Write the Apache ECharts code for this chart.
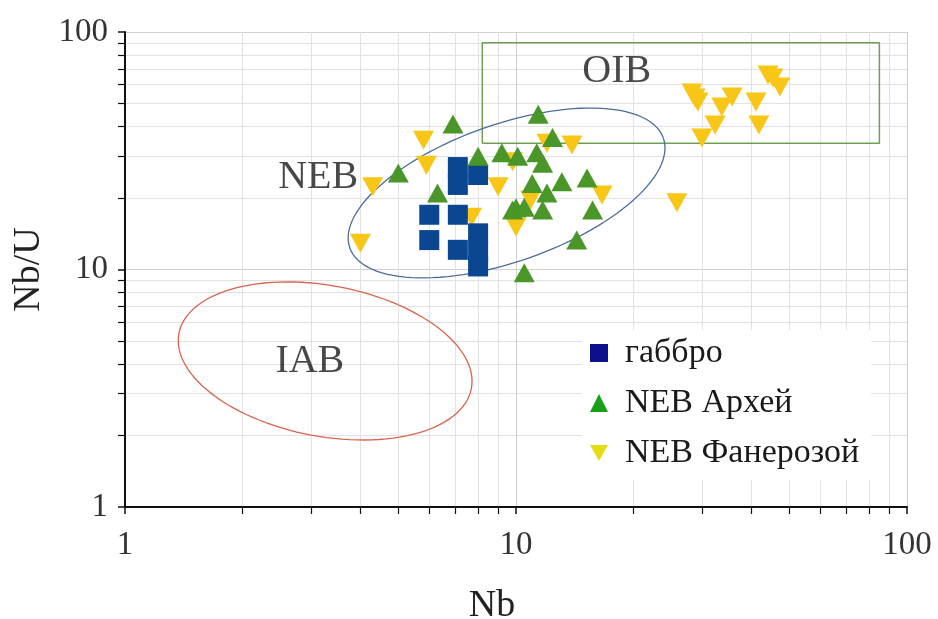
<!DOCTYPE html>
<html>
<head>
<meta charset="utf-8">
<script src="https://cdn.jsdelivr.net/npm/echarts@6/dist/echarts.min.js"></script>
<style>
  html, body { margin: 0; padding: 0; background: #fff; }
  #main { width: 938px; height: 619px; }
</style>
</head>
<body>
<div id="main"></div>
<script>
// Nb (ppm) vs Nb/U
var gabbro = [
  [6.0, 17.0], [6.0, 13.3], [7.1, 27.0], [7.1, 22.7], [7.1, 17.0],
  [7.1, 12.1], [8.0, 25.0], [8.0, 14.2], [8.0, 11.9], [8.0, 10.3]
];
var nebArchean = [
  [6.9, 41], [11.4, 45], [12.4, 36], [5.0, 25.5], [8.0, 30], [9.2, 31],
  [10.1, 30], [11.3, 31], [11.7, 28], [6.3, 21], [11.0, 23], [12.0, 21],
  [13.1, 23.4], [15.2, 24.3], [10.0, 18.2], [9.8, 17.8], [10.5, 18.3],
  [11.7, 17.8], [15.7, 17.8], [14.3, 13.3], [10.5, 9.7]
];
var nebPhanerozoic = [
  [5.8, 35], [5.9, 27.5], [4.3, 22.3], [4.0, 12.9], [9.0, 22.3], [10.0, 15.1],
  [7.7, 16.6], [13.9, 33.4], [16.6, 20.6], [12.0, 34], [9.8, 28.4], [10.9, 19.6],
  [25.8, 19.1], [28.7, 52.7], [28.2, 55.4], [29.2, 50.7], [35.7, 53.3],
  [33.6, 48.3], [32.3, 40.6], [29.9, 35.8], [41.1, 50.7], [41.8, 40.6],
  [44.1, 65.9], [47.3, 58.7], [45.4, 64]
];
var seriesNames = ["габбро", "NEB Архей", "NEB Фанерозой"];

// field outlines: box [xmin, xmax, ymin, ymax], ellipses as centre + two half-axes in decades
var oibBox = [8.2, 85, 34, 90];
var nebEllipse = { c: [9.46, 21.0], u: [0.401, 0.231], v: [-0.058, 0.273] };
var iabEllipse = { c: [3.25, 4.12], u: [0.374, -0.116], v: [0.036, 0.312] };
var fieldLabels = [[18.1, 67.9, "OIB"], [3.12, 24.3, "NEB"], [2.97, 4.08, "IAB"]];

function ellipsePoints(e) {
  var pts = [];
  var lx = Math.log10(e.c[0]), ly = Math.log10(e.c[1]);
  for (var i = 0; i <= 120; i++) {
    var t = (i / 120) * 2 * Math.PI;
    pts.push([
      Math.pow(10, lx + e.u[0] * Math.cos(t) + e.v[0] * Math.sin(t)),
      Math.pow(10, ly + e.u[1] * Math.cos(t) + e.v[1] * Math.sin(t))
    ]);
  }
  return pts;
}
function boxPoints(b) {
  return [[b[0], b[2]], [b[1], b[2]], [b[1], b[3]], [b[0], b[3]], [b[0], b[2]]];
}

var serif = "Liberation Serif";
var chart = echarts.init(document.getElementById("main"));

function logAxis(name, isX) {
  return {
    type: "log",
    logBase: 10,
    min: 1,
    max: 100,
    interval: 1,
    name: name,
    nameLocation: "middle",
    nameGap: isX ? 80 : 76,
    nameRotate: isX ? 0 : 90,
    nameTextStyle: {
      fontFamily: serif, fontSize: 38, color: "#222",
      padding: isX ? [0, 48, 0, 0] : 0
    },
    axisLine: { show: true, lineStyle: { color: "#111", width: 2 } },
    axisTick: { show: true, inside: false, length: 7, lineStyle: { color: "#111", width: 1.5 } },
    minorTick: { show: true, splitNumber: 9, length: 7, lineStyle: { color: "#111", width: 1.2 } },
    axisLabel: {
      fontFamily: serif, fontSize: 33, color: "#333",
      margin: isX ? 22 : 17
    },
    splitLine: { show: true, lineStyle: { color: "#cfcfcf", width: 1 } },
    minorSplitLine: { show: true, lineStyle: { color: "#e2e2e2", width: 1 } }
  };
}

var option = {
  backgroundColor: "#fff",
  animation: false,
  grid: { left: 125, right: 31, top: 32, bottom: 112, containLabel: false, outerBoundsMode: "none" },
  xAxis: logAxis("Nb", true),
  yAxis: logAxis("Nb/U", false),
  legend: {
    data: [
      { name: seriesNames[0], icon: "rect", itemStyle: { color: "#0b108c" } },
      { name: seriesNames[1], icon: "triangle", itemStyle: { color: "#18a018" } },
      { name: seriesNames[2], icon: "path://M0,0L20,0L10,18Z", itemStyle: { color: "#e6dc12" } }
    ],
    orient: "vertical",
    left: 582,
    top: 330,
    itemWidth: 18,
    itemHeight: 18,
    itemGap: 16,
    padding: [6, 12, 10, 8],
    backgroundColor: "#fff",
    textStyle: { fontFamily: serif, fontSize: 34, color: "#1a1a1a", padding: [0, 0, 0, 12] }
  },
  series: [
    {
      type: "line", data: boxPoints(oibBox), symbol: "none", silent: true,
      lineStyle: { color: "#6f9e55", width: 1.5 }, z: 1
    },
    {
      type: "line", data: ellipsePoints(nebEllipse), symbol: "none", silent: true,
      lineStyle: { color: "#4a6d9c", width: 1.3 }, z: 1
    },
    {
      type: "line", data: ellipsePoints(iabEllipse), symbol: "none", silent: true,
      lineStyle: { color: "#d8644e", width: 1.3 }, z: 1
    },
    {
      type: "scatter", data: fieldLabels, symbolSize: 0, silent: true,
      label: {
        show: true, position: "inside", fontFamily: serif, fontSize: 40, color: "#1a1a1a",
        formatter: function (p) { return p.data[2]; }
      }, z: 1
    },
    {
      name: seriesNames[2], type: "scatter", data: nebPhanerozoic,
      symbol: "triangle", symbolRotate: 180, symbolSize: [21, 19],
      itemStyle: { color: "#f8c617", opacity: 1 }, z: 2
    },
    {
      name: seriesNames[0], type: "scatter", data: gabbro,
      symbol: "rect", symbolSize: 20,
      itemStyle: { color: "#0b4791", opacity: 1 }, z: 3
    },
    {
      name: seriesNames[1], type: "scatter", data: nebArchean,
      symbol: "triangle", symbolSize: [21, 19],
      itemStyle: { color: "#4a9628", opacity: 1 }, z: 4
    }
  ]
};
chart.setOption(option);
</script>
</body>
</html>
